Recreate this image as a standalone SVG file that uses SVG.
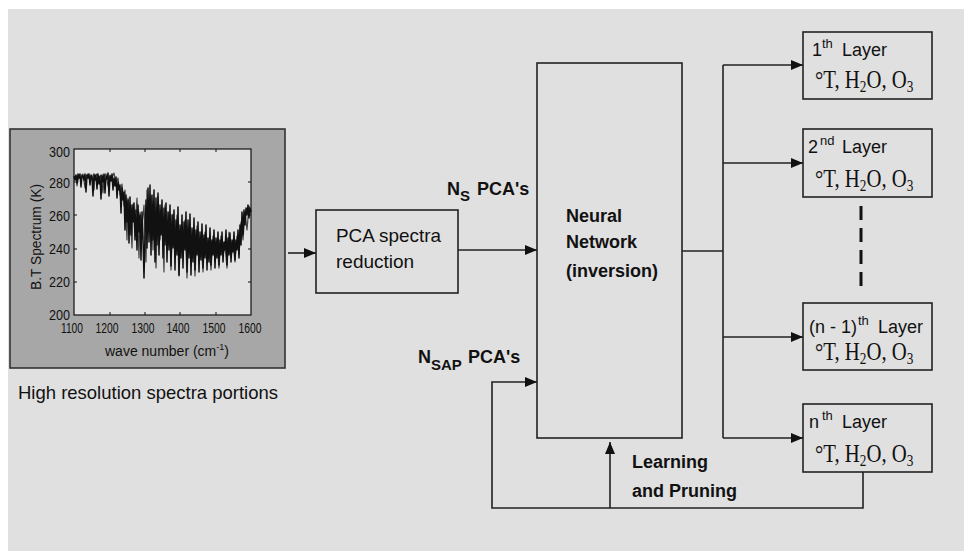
<svg xmlns="http://www.w3.org/2000/svg" width="964" height="551" viewBox="0 0 964 551">
  <defs>
    <marker id="arrow" viewBox="0 0 12 10" refX="12" refY="5" markerWidth="12" markerHeight="10" markerUnits="userSpaceOnUse" orient="auto">
      <path d="M0,0 L12,5 L0,10 Z" fill="#111"/>
    </marker>
    <style>
      .box { fill: none; stroke: #222; stroke-width: 1.6; }
      .wire { fill: none; stroke: #222; stroke-width: 1.6; }
      .arr { marker-end: url(#arrow); }
      .sans { font-family: "Liberation Sans", Arial, sans-serif; fill: #111; }
      .lbl { font-size: 19px; }
      .bold { font-family: "Liberation Sans", Arial, sans-serif; font-weight: bold; font-size: 18px; fill: #111; }
      .lay { font-family: "Liberation Sans", Arial, sans-serif; font-size: 18px; fill: #111; }
      .sup { font-size: 13px; }
      .chem { font-family: "Liberation Serif", "Times New Roman", serif; font-size: 25px; fill: #111; }
      .csub { font-size: 16px; }
      .tick { font-family: "Liberation Sans", Arial, sans-serif; font-size: 14px; fill: #111; }
      .trace { fill: none; stroke-linejoin: round; }
    </style>
  </defs>

  <!-- page background -->
  <rect x="0" y="0" width="964" height="551" fill="#ffffff"/>
  <rect x="8" y="9" width="956" height="542" fill="#e0e0e0"/>

  <!-- spectrum figure -->
  <g id="spectrum">
    <rect x="10" y="129" width="275" height="239" fill="#a7a7a7" stroke="#333" stroke-width="1.6"/>
    <rect x="74" y="149" width="177" height="166" fill="#e2e2e2" stroke="#111" stroke-width="1.2"/>
    <!-- tick marks -->
    <path d="M110,149v3 M145,149v3 M180,149v3 M216,149v3 M110,315v-3 M145,315v-3 M180,315v-3 M216,315v-3 M74,182h3 M74,215h3 M74,249h3 M74,282h3 M251,182h-3 M251,215h-3 M251,249h-3 M251,282h-3" stroke="#111" stroke-width="1"/>
    <!-- brightness temperature trace -->
    <polyline class="trace" stroke="#444" stroke-width="1.2" points="74,178 76,176 77,186 79,175 81,180 83,174 85,188 86,176 88,174 90,181 92,175 94,190 95,176 97,174 99,179 101,175 103,193 104,176 106,174 108,186 110,175 112,178 114,173 116,184 118,178 120,195 122,184 124,206 125,190 127,240 128,198 130,212 132,248 133,204 135,228 137,198 139,258 140,212 142,226 144,205 146,262 147,190 149,232 151,196 153,250 154,203 156,268 158,196 160,240 162,209 164,272 165,205 167,238 169,212 171,270 173,214 175,245 177,215 179,276 181,226 183,252 185,220 187,278 189,226 191,250 193,230 195,276 197,226 199,250 201,240 203,272 205,232 207,256 209,245 211,270 213,236 215,262 217,242 219,268 221,236 223,255 225,246 227,268 229,232 231,258 233,244 235,262 237,236 239,255 241,222 243,240 245,212 247,230 249,206 251,214"/>
    <polyline class="trace" stroke="#111" stroke-width="1.5" points="74,176 75,180 76,175 77,183 78,174 79,178 80,174 81,187 82,175 83,176 84,180 85,174 86,192 87,175 88,178 89,174 90,185 91,175 92,177 93,196 94,174 95,180 96,175 97,189 98,174 99,184 100,176 101,199 102,175 103,182 104,174 105,193 106,176 107,179 108,173 109,196 110,176 111,181 112,174 113,190 114,178 115,186 116,177 117,198 118,182 119,190 120,185 121,213 122,188 123,200 124,192 125,230 126,195 127,222 128,200 129,243 130,197 131,235 132,205 133,222 134,203 135,240 136,210 137,250 138,205 139,232 140,215 141,260 142,212 143,238 144,278 145,235 146,200 147,248 148,188 149,242 150,185 151,255 152,195 153,240 154,190 155,262 156,198 157,245 158,193 159,255 160,205 161,235 162,200 163,258 164,208 165,245 166,203 167,262 168,212 169,250 170,205 171,266 172,215 173,248 174,210 175,270 176,220 177,255 178,207 179,275 180,225 181,258 182,215 183,268 184,222 185,250 186,212 187,272 188,220 189,258 190,214 191,275 192,228 193,262 194,218 195,270 196,230 197,255 198,222 199,272 200,232 201,260 202,224 203,268 204,235 205,258 206,225 207,270 208,238 209,262 210,228 211,265 212,240 213,255 214,230 215,268 216,238 217,258 218,232 219,265 220,240 221,255 222,232 223,262 224,242 225,250 226,230 227,265 228,238 229,255 230,233 231,262 232,240 233,252 234,232 235,260 236,240 237,250 238,230 239,258 240,225 241,245 242,212 243,235 244,210 245,225 246,208 247,215 248,205 249,218 250,208 251,212"/>
    <!-- y axis labels -->
    <g class="tick" text-anchor="end">
      <text x="70" y="157" textLength="21" lengthAdjust="spacingAndGlyphs">300</text>
      <text x="70" y="188" textLength="21" lengthAdjust="spacingAndGlyphs">280</text>
      <text x="70" y="221" textLength="21" lengthAdjust="spacingAndGlyphs">260</text>
      <text x="70" y="254" textLength="21" lengthAdjust="spacingAndGlyphs">240</text>
      <text x="70" y="287" textLength="21" lengthAdjust="spacingAndGlyphs">220</text>
      <text x="70" y="320" textLength="21" lengthAdjust="spacingAndGlyphs">200</text>
    </g>
    <!-- x axis labels -->
    <g class="tick" text-anchor="middle">
      <text x="72" y="333" textLength="22" lengthAdjust="spacingAndGlyphs">1100</text>
      <text x="107" y="333" textLength="23" lengthAdjust="spacingAndGlyphs">1200</text>
      <text x="143" y="333" textLength="23" lengthAdjust="spacingAndGlyphs">1300</text>
      <text x="178" y="333" textLength="23" lengthAdjust="spacingAndGlyphs">1400</text>
      <text x="214" y="333" textLength="23" lengthAdjust="spacingAndGlyphs">1500</text>
      <text x="250" y="333" textLength="23" lengthAdjust="spacingAndGlyphs">1600</text>
    </g>
    <text class="tick" x="105" y="356" font-size="13">wave number (cm<tspan font-size="9" dy="-6">-1</tspan><tspan dy="6">)</tspan></text>
    <text class="tick" font-size="14" text-anchor="middle" transform="translate(41,237) rotate(-90)" textLength="106" lengthAdjust="spacingAndGlyphs">B.T Spectrum (K)</text>
    <text class="sans" x="18" y="399" font-size="19" textLength="260" lengthAdjust="spacingAndGlyphs">High resolution spectra portions</text>
  </g>

  <!-- PCA reduction block -->
  <g id="pca">
    <rect class="box" x="316" y="210" width="142" height="83"/>
    <text class="sans lbl" x="336" y="242" textLength="105" lengthAdjust="spacingAndGlyphs">PCA spectra</text>
    <text class="sans lbl" x="336" y="268">reduction</text>
  </g>

  <!-- Neural network block -->
  <g id="neural-network">
    <rect class="box" x="537" y="63" width="145" height="375"/>
    <text class="bold" x="566" y="222">Neural</text>
    <text class="bold" x="566" y="248">Network</text>
    <text class="bold" x="566" y="277">(inversion)</text>
  </g>

  <!-- output layers -->
  <g id="layer-1">
    <rect class="box" x="803" y="32" width="129" height="67"/>
    <text class="lay" x="812" y="56">1</text>
    <text class="lay sup" x="822" y="48">th</text>
    <text class="lay" x="842" y="56">Layer</text>
    <text class="chem" transform="translate(815,88) scale(0.83,1)">°T, H<tspan class="csub" dy="4">2</tspan><tspan dy="-4">O, O</tspan><tspan class="csub" dy="4">3</tspan></text>
  </g>
  <g id="layer-2">
    <rect class="box" x="803" y="129" width="129" height="68"/>
    <text class="lay" x="808" y="153">2</text>
    <text class="lay sup" x="820" y="145">nd</text>
    <text class="lay" x="842" y="153">Layer</text>
    <text class="chem" transform="translate(815,187) scale(0.83,1)">°T, H<tspan class="csub" dy="4">2</tspan><tspan dy="-4">O, O</tspan><tspan class="csub" dy="4">3</tspan></text>
  </g>
  <g id="layer-n-1">
    <rect class="box" x="803" y="303" width="129" height="67"/>
    <text class="lay" x="809" y="333">(n - 1)</text>
    <text class="lay sup" x="858" y="325">th</text>
    <text class="lay" x="878" y="333">Layer</text>
    <text class="chem" transform="translate(815,360) scale(0.83,1)">°T, H<tspan class="csub" dy="4">2</tspan><tspan dy="-4">O, O</tspan><tspan class="csub" dy="4">3</tspan></text>
  </g>
  <g id="layer-n">
    <rect class="box" x="803" y="404" width="129" height="68"/>
    <text class="lay" x="809" y="428">n</text>
    <text class="lay sup" x="822" y="420">th</text>
    <text class="lay" x="842" y="428">Layer</text>
    <text class="chem" transform="translate(815,462) scale(0.83,1)">°T, H<tspan class="csub" dy="4">2</tspan><tspan dy="-4">O, O</tspan><tspan class="csub" dy="4">3</tspan></text>
  </g>

  <!-- connector labels -->
  <g id="labels">
    <text class="bold" x="447" y="195">N<tspan font-size="15" dy="6">S</tspan><tspan dy="-6" x="477">PCA's</tspan></text>
    <text class="bold" x="418" y="363">N<tspan font-size="15" dy="7">SAP</tspan><tspan dy="-7" x="468">PCA's</tspan></text>
    <text class="bold" x="632" y="468">Learning</text>
    <text class="bold" x="632" y="497">and Pruning</text>
  </g>

  <!-- connectors -->
  <g id="connectors">
    <line class="wire arr" x1="288" y1="253" x2="316" y2="253"/>
    <line class="wire arr" x1="458" y1="250" x2="537" y2="250"/>
    <line class="wire" x1="682" y1="251" x2="723" y2="251"/>
    <line class="wire" x1="723" y1="65" x2="723" y2="438"/>
    <line class="wire arr" x1="723" y1="65" x2="803" y2="65"/>
    <line class="wire arr" x1="723" y1="163" x2="803" y2="163"/>
    <line class="wire arr" x1="723" y1="337" x2="803" y2="337"/>
    <line class="wire arr" x1="723" y1="438" x2="803" y2="438"/>
    <line x1="861" y1="206" x2="861" y2="292" stroke="#111" stroke-width="3" stroke-dasharray="14,8"/>
    <polyline class="wire arr" points="863,472 863,508 492,508 492,382 537,382"/>
    <line class="wire arr" x1="610" y1="508" x2="610" y2="442"/>
  </g>
</svg>
